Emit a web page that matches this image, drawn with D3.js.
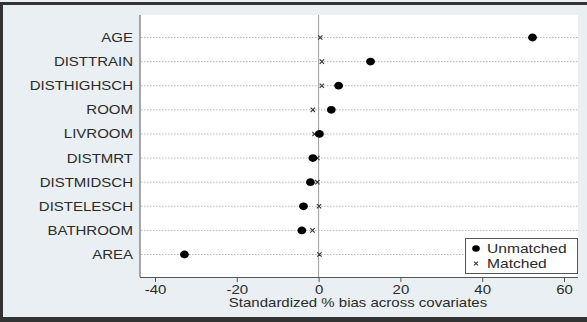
<!DOCTYPE html>
<html>
<head>
<meta charset="utf-8">
<script src="https://cdn.jsdelivr.net/npm/d3@7"></script>
<style>
  body { margin: 0; background: #fff; }
  svg { display: block; font-family: "Liberation Sans", Arial, sans-serif; }
</style>
</head>
<body>
<div id="chart"></div>
<script>
// covariates, top to bottom
const covariates = ["AGE", "DISTTRAIN", "DISTHIGHSCH", "ROOM", "LIVROOM",
  "DISTMRT", "DISTMIDSCH", "DISTELESCH", "BATHROOM", "AREA"];
// standardized % bias
const unmatched = [52.3, 12.7, 4.9, 3.1, 0.2, -1.4, -2.0, -3.7, -4.1, -32.8];
const matched = [0.4, 0.8, 0.8, -1.4, -1.0, -0.3, -0.3, 0.1, -1.5, 0.2];
const xTicks = [-40, -20, 0, 20, 40, 60];
const legendLabels = ["Unmatched", "Matched"];

const W = 587, H = 322;
const plot = { left: 140, right: 578, top: 15, bottom: 277 };
const SX = 1.2; // text in the original is stretched sideways

const svg = d3.select("#chart").append("svg")
  .attr("width", W).attr("height", H);

// outer frame
svg.append("rect").attr("x", 0).attr("y", 0).attr("width", W).attr("height", H)
  .attr("fill", "#e9eff2");
svg.append("rect").attr("x", 0).attr("y", 2).attr("width", W).attr("height", 3)
  .attr("fill", "#333");
svg.append("rect").attr("x", 0).attr("y", 317).attr("width", W).attr("height", 5)
  .attr("fill", "#333");
svg.append("rect").attr("x", 0).attr("y", 2).attr("width", 3).attr("height", 320)
  .attr("fill", "#333");

// plot region
svg.append("rect")
  .attr("x", plot.left).attr("y", plot.top)
  .attr("width", plot.right - plot.left).attr("height", plot.bottom - plot.top)
  .attr("fill", "#fff");

const x = d3.scaleLinear().domain([-40, 60]).range([155, 564]);
const y = d3.scalePoint().domain(covariates).range([37.5, 254.5]);

// dotted row lines
svg.append("g").selectAll("line").data(covariates).enter().append("line")
  .attr("x1", plot.left + 1).attr("x2", plot.right)
  .attr("y1", d => y(d)).attr("y2", d => y(d))
  .attr("stroke", "#b4b8bc").attr("stroke-width", 1)
  .attr("stroke-dasharray", "1.5,1.5");

// zero line
svg.append("line")
  .attr("x1", x(0)).attr("x2", x(0))
  .attr("y1", plot.top).attr("y2", plot.bottom)
  .attr("stroke", "#9a9ea2").attr("stroke-width", 1);

// left axis line
svg.append("line")
  .attr("x1", plot.left).attr("x2", plot.left)
  .attr("y1", plot.top).attr("y2", plot.bottom)
  .attr("stroke", "#555").attr("stroke-width", 1);

// y labels
svg.append("g").selectAll("text").data(covariates).enter().append("text")
  .attr("transform", d => `translate(133,${y(d)}) scale(${SX},1)`)
  .attr("dy", "0.36em")
  .attr("text-anchor", "end")
  .attr("font-size", 12.5)
  .attr("fill", "#2a2a2a")
  .text(d => d);

// x axis
const xAxis = svg.append("g")
  .attr("transform", `translate(0,${plot.bottom})`)
  .call(d3.axisBottom(x).tickValues(xTicks).tickFormat(d => String(d))
    .tickSize(5).tickPadding(3));
xAxis.select(".domain").attr("stroke", "#555")
  .attr("d", `M${plot.left},0.5H${plot.right}`);
xAxis.selectAll(".tick line").attr("stroke", "#555");
xAxis.selectAll(".tick text")
  .attr("font-size", 12.5).attr("fill", "#2a2a2a")
  .attr("font-family", "Liberation Sans, Arial, sans-serif")
  .attr("transform", `scale(${SX},1)`);

svg.append("text")
  .attr("transform", `translate(358,307) scale(${SX},1)`)
  .attr("text-anchor", "middle")
  .attr("font-size", 12.5).attr("fill", "#2a2a2a")
  .text("Standardized % bias across covariates");

// matched (x markers)
const cross = d3.symbol().type(d3.symbolX).size(14);
svg.append("g").selectAll("path").data(matched).enter().append("path")
  .attr("d", cross)
  .attr("transform", (d, i) => `translate(${x(d)},${y(covariates[i])})`)
  .attr("stroke", "#333").attr("stroke-width", 1.1).attr("fill", "none");

// unmatched (dots)
svg.append("g").selectAll("ellipse").data(unmatched).enter().append("ellipse")
  .attr("cx", d => x(d))
  .attr("cy", (d, i) => y(covariates[i]))
  .attr("rx", 4.4).attr("ry", 3.9)
  .attr("fill", "#000");

// legend
const lg = svg.append("g").attr("transform", "translate(465,238)");
lg.append("rect").attr("x", 0.5).attr("y", 0.5).attr("width", 112).attr("height", 35)
  .attr("fill", "#fff").attr("stroke", "#555");
lg.append("ellipse").attr("cx", 11).attr("cy", 10.5).attr("rx", 3.8).attr("ry", 3.3)
  .attr("fill", "#000");
lg.append("path").attr("d", d3.symbol().type(d3.symbolX).size(12))
  .attr("transform", "translate(11,25.5)")
  .attr("stroke", "#333").attr("stroke-width", 1.1).attr("fill", "none");
lg.selectAll("text").data(legendLabels).enter().append("text")
  .attr("transform", (d, i) => `translate(22,${10.5 + i * 15}) scale(${SX},1)`)
  .attr("dy", "0.36em")
  .attr("font-size", 13).attr("fill", "#2a2a2a")
  .text(d => d);
</script>
</body>
</html>
